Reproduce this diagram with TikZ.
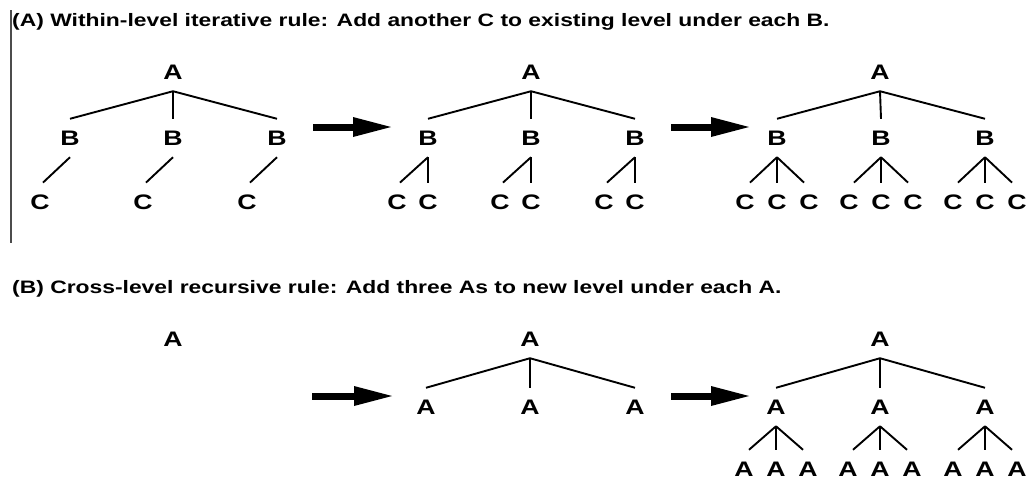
\documentclass[tikz,border=0pt]{standalone}
\usepackage{fontspec}
\setmainfont{Liberation Sans}
\newfontfamily\widesans[FakeStretch=1.27]{Liberation Sans}
\usetikzlibrary{arrows.meta}

\tikzset{
  lab/.style={font=\widesans\fontsize{21}{21}\selectfont\bfseries, inner sep=0pt, outer ysep=12pt},
  ttl/.style={font=\widesans\fontsize{18}{18}\selectfont\bfseries, inner sep=0pt, anchor=base west},
  edge/.style={line width=1.9pt},
  step arrow/.style={line width=7pt, -{Triangle[length=38pt,width=20pt,line width=0pt]}},
}

\begin{document}
\begin{tikzpicture}[x=1pt,y=-1pt]
\useasboundingbox (0,0) rectangle (1030,480);

% margin rule beside part (A)
\draw[line width=1.2pt, black!70] (11,10) -- (11,243);

% ---------------- Part (A) ----------------
\node[ttl] (ta) at (12,26) {(A) Within-level iterative rule: Add another C to existing level under each B.};

% stage 1
\node[lab] (a1) at (173,72) {A};
\foreach \i/\x in {1/70,2/173,3/277}{
  \node[lab] (a1b\i) at (\x,138) {B};
  \node[lab] (a1c\i) at (\x-30,202) {C};
  \draw[edge] (a1.south) -- (a1b\i.north);
  \draw[edge] (a1b\i.south) -- ([xshift=3pt]a1c\i.north);
}

% stage 2
\node[lab] (a2) at (531,72) {A};
\foreach \i/\x in {1/428,2/531,3/635}{
  \node[lab] (a2b\i) at (\x,138) {B};
  \node[lab] (a2c\i1) at (\x-31,202) {C};
  \node[lab] (a2c\i2) at (\x,202) {C};
  \draw[edge] (a2.south) -- (a2b\i.north);
  \draw[edge] (a2b\i.south) -- ([xshift=3pt]a2c\i1.north);
  \draw[edge] (a2b\i.south) -- (a2c\i2.north);
}

% stage 3
\node[lab] (a3) at (880,72) {A};
\foreach \i/\x in {1/777,2/881,3/985}{
  \node[lab] (a3b\i) at (\x,138) {B};
  \node[lab] (a3c\i1) at (\x-32,202) {C};
  \node[lab] (a3c\i2) at (\x,202) {C};
  \node[lab] (a3c\i3) at (\x+32,202) {C};
  \draw[edge] (a3.south) -- (a3b\i.north);
  \draw[edge] (a3b\i.south) -- ([xshift=5pt]a3c\i1.north);
  \draw[edge] (a3b\i.south) -- (a3c\i2.north);
  \draw[edge] (a3b\i.south) -- ([xshift=-5pt]a3c\i3.north);
}

% transition arrows
\coordinate (pa1s) at (313,127);
\coordinate (pa1e) at (391,127);
\coordinate (pa2s) at (671,127);
\coordinate (pa2e) at (749,127);
\draw[step arrow] (pa1s) -- (pa1e);
\draw[step arrow] (pa2s) -- (pa2e);

% ---------------- Part (B) ----------------
\node[ttl] (tb) at (12,293) {(B) Cross-level recursive rule: Add three As to new level under each A.};

% stage 1
\node[lab] (b1) at (173,339) {A};

% stage 2
\node[lab] (b2) at (530,339) {A};
\foreach \i/\x in {1/426,2/530,3/635}{
  \node[lab] (b2a\i) at (\x,407) {A};
  \draw[edge] (b2.south) -- (b2a\i.north);
}

% stage 3
\node[lab] (b3) at (880,339) {A};
\foreach \i/\x in {1/776,2/880,3/985}{
  \node[lab] (b3a\i) at (\x,407) {A};
  \node[lab] (b3c\i1) at (\x-32,469) {A};
  \node[lab] (b3c\i2) at (\x,469) {A};
  \node[lab] (b3c\i3) at (\x+32,469) {A};
  \draw[edge] (b3.south) -- (b3a\i.north);
  \draw[edge] (b3a\i.south) -- ([xshift=5pt]b3c\i1.north);
  \draw[edge] (b3a\i.south) -- (b3c\i2.north);
  \draw[edge] (b3a\i.south) -- ([xshift=-5pt]b3c\i3.north);
}

% transition arrows
\coordinate (pb1s) at (312,396);
\coordinate (pb1e) at (392,396);
\coordinate (pb2s) at (671,396);
\coordinate (pb2e) at (749,396);
\draw[step arrow] (pb1s) -- (pb1e);
\draw[step arrow] (pb2s) -- (pb2e);

\end{tikzpicture}
\end{document}
